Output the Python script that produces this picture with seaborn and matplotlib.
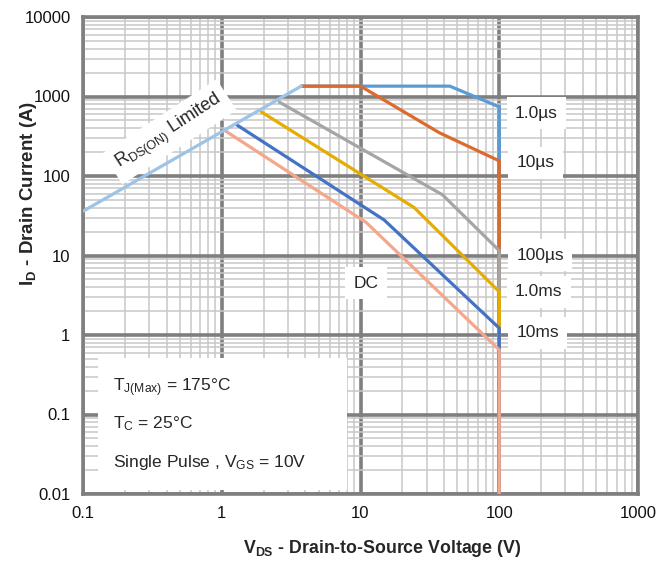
import pandas as pd
import matplotlib
matplotlib.use('Agg')
import matplotlib.pyplot as plt
import seaborn as sns
from matplotlib.ticker import FixedLocator, LogLocator, NullFormatter
from matplotlib.patches import Rectangle

# SOA curves (V, A)
vds_rds = [0.1, 3.74]
id_rds = [36, 1350]

vds_1us = [3.74, 44, 100, 100]
id_1us = [1350, 1350, 740, 0.01]

vds_10us = [3.74, 10, 37, 100, 100]
id_10us = [1350, 1350, 350, 155, 0.01]

vds_100us = [2.6, 39, 100, 100]
id_100us = [850, 58, 11.5, 0.01]

vds_1ms = [1.93, 24.4, 100, 100]
id_1ms = [640, 40, 3.5, 0.01]

vds_10ms = [1.29, 14.8, 100, 100]
id_10ms = [437, 28, 1.22, 0.01]

vds_dc = [1.06, 11, 100, 100]
id_dc = [370, 26, 0.65, 0.01]

x_ticks = [0.1, 1, 10, 100, 1000]
x_labels = ['0.1', '1', '10', '100', '1000']
y_ticks = [0.01, 0.1, 1, 10, 100, 1000, 10000]
y_labels = ['0.01', '0.1', '1', '10', '100', '1000', '10000']

series = {
    '1.0us': (vds_1us, id_1us),
    '10us': (vds_10us, id_10us),
    '100us': (vds_100us, id_100us),
    '1.0ms': (vds_1ms, id_1ms),
    '10ms': (vds_10ms, id_10ms),
    'DC': (vds_dc, id_dc),
    'Rds': (vds_rds, id_rds),
}
colors = {
    '1.0us': '#5b9bd5',
    '10us': '#dc6a2c',
    '100us': '#a5a5a5',
    '1.0ms': '#e6ac00',
    '10ms': '#4472c4',
    'DC': '#f4a78a',
    'Rds': '#9dc3e6',
}

rows = []
for name, (xs, ys) in series.items():
    for i, (x, y) in enumerate(zip(xs, ys)):
        rows.append({'curve': name, 'step': i, 'Vds': x, 'Id': y})
df = pd.DataFrame(rows)

sns.set_style('white')
plt.rcParams['font.family'] = ['Liberation Sans', 'DejaVu Sans']
plt.rcParams['mathtext.fontset'] = 'custom'
plt.rcParams['mathtext.rm'] = 'Liberation Sans'
plt.rcParams['mathtext.it'] = 'Liberation Sans:italic'
plt.rcParams['mathtext.bf'] = 'Liberation Sans:bold'

fig = plt.figure(figsize=(6.56, 5.64), dpi=100)
ax = fig.add_axes([83 / 656, 70 / 564, 555 / 656, 477 / 564])

sns.lineplot(data=df, x='Vds', y='Id', hue='curve', hue_order=list(series.keys()),
             palette=colors, units='curve', estimator=None, sort=False,
             linewidth=2.3, legend=False, ax=ax, zorder=3)

ax.set_xscale('log')
ax.set_yscale('log')
ax.set_xlim(0.1, 1000)
ax.set_ylim(0.01, 10000)

ax.xaxis.set_major_locator(FixedLocator(x_ticks))
ax.set_xticklabels(x_labels)
ax.yaxis.set_major_locator(FixedLocator(y_ticks))
ax.set_yticklabels(y_labels)
ax.xaxis.set_minor_locator(LogLocator(base=10, subs=range(2, 10), numticks=20))
ax.yaxis.set_minor_locator(LogLocator(base=10, subs=range(2, 10), numticks=20))
ax.xaxis.set_minor_formatter(NullFormatter())
ax.yaxis.set_minor_formatter(NullFormatter())
ax.tick_params(which='both', length=0, labelsize=12, pad=9, colors='#111111')

ax.set_axisbelow(True)
ax.grid(which='major', color='#7f7f7f', linewidth=2.6)
ax.grid(which='minor', color='#c8c8c8', linewidth=1.1)
for s in ax.spines.values():
    s.set_color('#7f7f7f')
    s.set_linewidth(2.6)

ax.set_xlabel(r'V$_\mathbf{DS}$ - Drain-to-Source Voltage (V)', fontsize=12.8, fontweight='bold')
ax.set_ylabel(r'I$_\mathbf{D}$ - Drain Current (A)', fontsize=13.5, fontweight='bold')
ax.xaxis.set_label_coords((382 - 83) / 555, -44 / 477)
ax.yaxis.set_label_coords(-44 / 555, (494 - 193) / 477)

box = dict(facecolor='white', edgecolor='none', pad=6)
lab_kw = dict(fontsize=12.5, va='center', ha='left', bbox=box, zorder=1.5)
ax.text(130, 620, '1.0µs', **lab_kw)
ax.text(133, 146, '10µs', **lab_kw)
ax.text(133, 10.1, '100µs', **lab_kw)
ax.text(130, 3.5, '1.0ms', **lab_kw)
ax.text(133, 1.06, '10ms', **lab_kw)
ax.text(11, 4.5, 'DC', fontsize=12.5, va='center', ha='center', bbox=box, zorder=1.5)
ax.text(0.42, 360, r'R$_\mathregular{DS(ON)}$ Limited', fontsize=13, rotation=33,
        va='center', ha='center', rotation_mode='anchor',
        bbox=dict(facecolor='white', edgecolor='none', pad=5), zorder=1.5)

ax.add_patch(Rectangle((0.027, 0.008), 0.449, 0.277, transform=ax.transAxes,
                       facecolor='white', edgecolor='none', zorder=1.5))
note_kw = dict(transform=ax.transAxes, fontsize=12.5, va='center', ha='left', zorder=2)
ax.text(0.054, 0.222, r'T$_\mathregular{J(Max)}$ = 175°C', **note_kw)
ax.text(0.054, 0.147, r'T$_\mathregular{C}$ = 25°C', **note_kw)
ax.text(0.054, 0.065, r'Single Pulse , V$_\mathregular{GS}$ = 10V', **note_kw)

fig.savefig('out.png', dpi=100, facecolor='white')
